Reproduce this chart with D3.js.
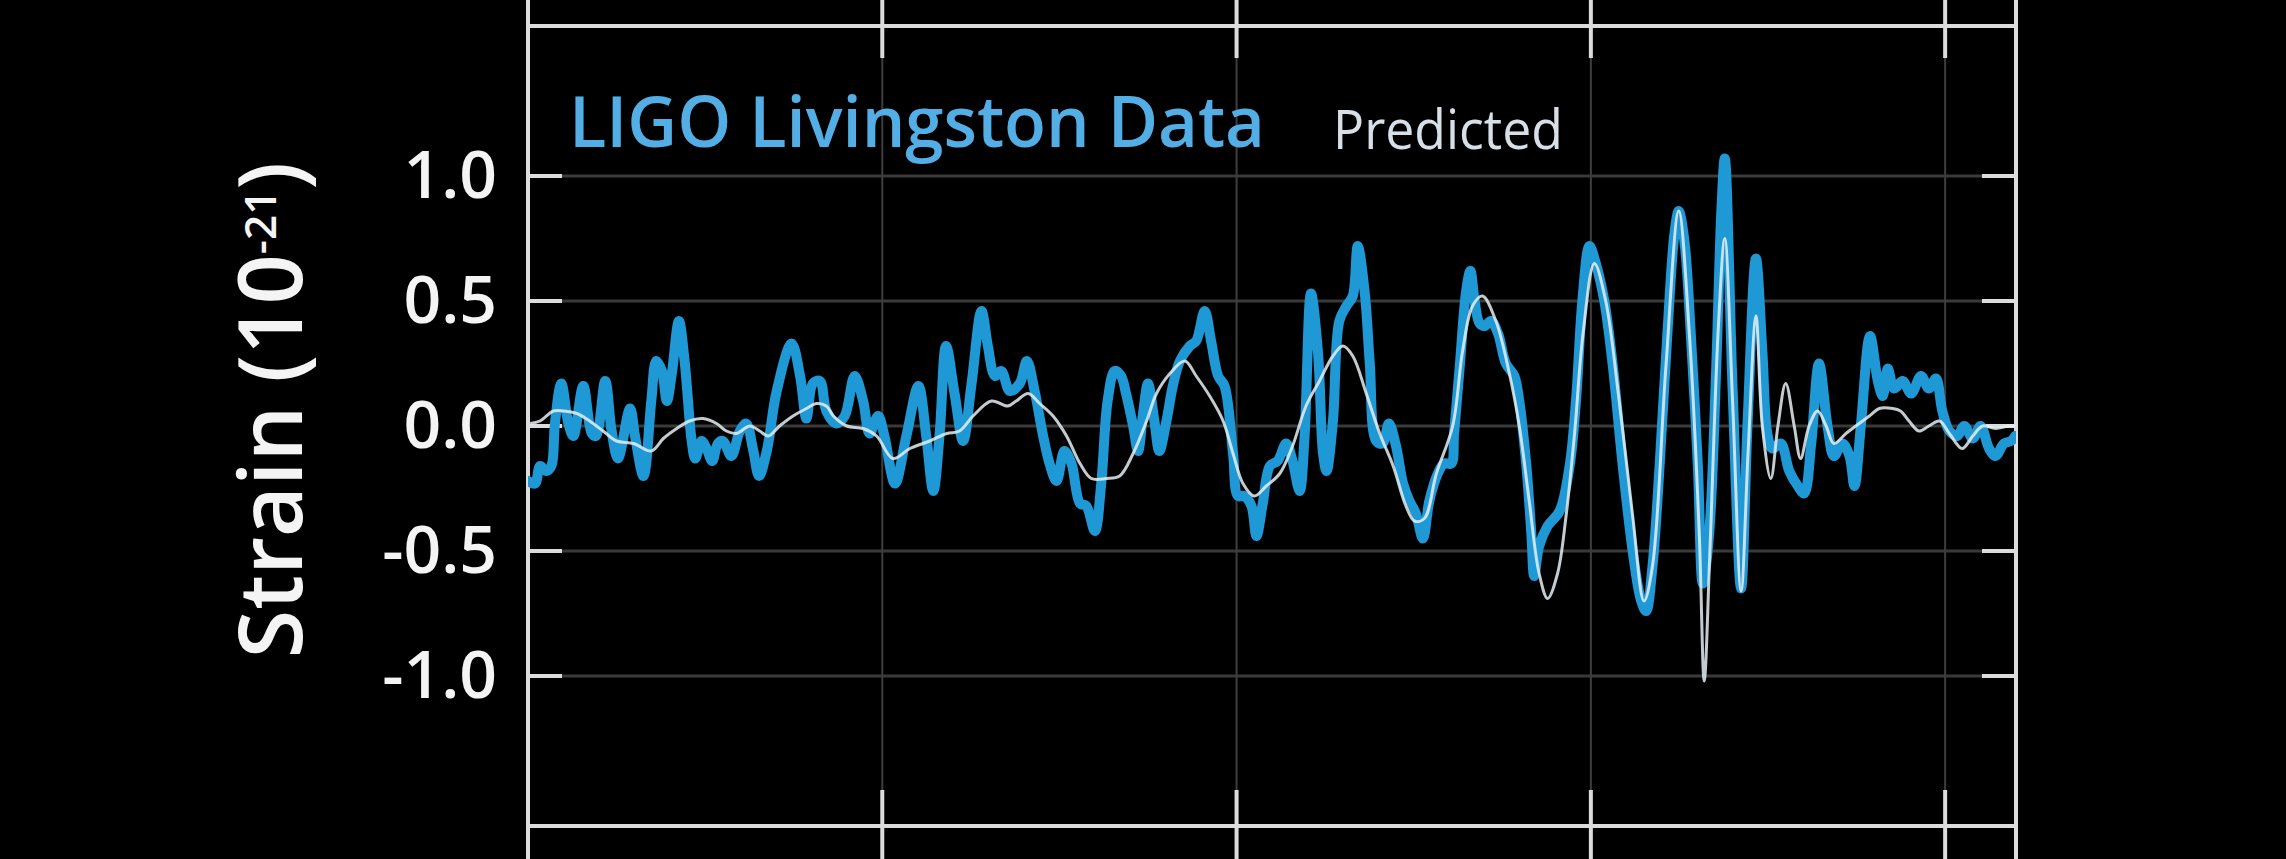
<!DOCTYPE html>
<html><head><meta charset="utf-8">
<script src="https://cdn.jsdelivr.net/npm/d3@7"></script>
<style>html,body{margin:0;padding:0;background:#000;overflow:hidden}</style>
</head><body>
<svg id="chart" width="2286" height="859"></svg>
<script>
// ---- data (time in ms, strain in units of 1e-21) ----
const xDomain = [250, 460];
const yDomain = [-1.6, 1.6];
const xTickValues = [300, 350, 400, 450];
const yTickValues = [-1.0, -0.5, 0.0, 0.5, 1.0];
const yTickLabels = ["-1.0", "-0.5", "0.0", "0.5", "1.0"];
const seriesNames = ["LIGO Livingston Data", "Predicted"];
const yTitleMain = "Strain (10";
const yTitleSup = "-21";
const yTitleEnd = ")";

const dataTime = [250.0,251.0,251.7,252.6,253.3,253.8,254.7,255.7,256.4,257.8,259.0,259.6,260.9,261.8,262.7,264.4,265.1,266.3,267.4,268.1,268.9,269.6,270.3,271.3,272.1,273.1,273.6,274.5,275.2,276.0,276.8,277.5,278.7,279.9,280.8,281.8,282.6,283.7,285.1,287.2,288.4,289.3,290.2,291.2,292.1,293.5,294.7,296.1,297.3,298.2,299.4,300.3,301.8,303.4,305.1,306.2,307.2,308.1,309.0,310.2,311.4,312.6,314.0,314.9,315.9,316.8,318.0,319.4,320.4,321.5,322.7,323.6,324.6,325.7,326.7,327.9,328.8,330.0,330.9,331.8,332.8,333.7,334.4,335.4,336.1,336.8,337.5,338.4,339.1,340.1,341.0,342.0,343.4,344.3,345.5,346.4,347.4,348.3,349.5,350.2,351.1,352.1,352.8,353.7,354.7,355.8,357.0,357.9,358.9,359.6,360.5,361.5,362.2,362.7,363.6,364.5,365.5,366.4,367.1,368.1,368.8,369.7,370.6,371.5,372.5,373.5,374.4,375.3,376.3,377.2,378.4,379.3,380.3,380.7,381.5,382.4,383.0,383.6,384.3,385.0,385.9,386.9,388.0,389.2,389.9,390.9,391.6,392.0,392.7,393.9,395.6,397.0,397.9,398.8,399.8,400.7,401.9,403.1,404.5,405.9,407.1,407.8,408.7,409.7,410.8,411.8,412.4,413.2,414.1,415.1,415.8,416.7,417.7,418.4,418.9,420.0,421.2,422.1,423.3,424.2,424.9,425.6,426.8,428.0,429.2,430.1,431.1,432.2,433.4,434.3,435.5,436.5,437.2,438.1,439.4,440.5,441.2,441.9,442.8,444.0,445.2,446.6,447.7,448.7,449.6,450.6,451.7,452.7,453.9,455.0,456.2,457.1,458.3,459.3,459.9];
const dataStrain = [-0.22,-0.23,-0.16,-0.18,-0.16,0.01,0.17,0.01,-0.04,0.16,-0.03,-0.04,0.18,-0.02,-0.13,0.07,-0.04,-0.20,0.10,0.26,0.22,0.10,0.21,0.42,0.26,-0.06,-0.13,-0.06,-0.09,-0.14,-0.07,-0.06,-0.12,-0.02,0.01,-0.10,-0.20,-0.10,0.14,0.33,0.20,0.03,0.17,0.18,0.06,0.01,0.04,0.20,0.10,-0.03,0.04,-0.04,-0.23,-0.04,0.16,-0.04,-0.26,-0.03,0.32,0.13,-0.06,0.17,0.46,0.32,0.20,0.22,0.14,0.17,0.26,0.14,-0.04,-0.15,-0.22,-0.10,-0.15,-0.31,-0.32,-0.42,-0.23,0.10,0.22,0.20,0.13,0.00,-0.10,0.05,0.17,0.02,-0.10,0.02,0.16,0.26,0.32,0.34,0.46,0.34,0.20,0.16,-0.11,-0.28,-0.28,-0.32,-0.44,-0.31,-0.16,-0.14,-0.07,-0.14,-0.26,-0.04,0.53,0.29,-0.11,-0.18,0.02,0.42,0.48,0.52,0.72,0.53,0.25,-0.06,-0.07,0.01,-0.08,-0.23,-0.30,-0.35,-0.45,-0.30,-0.19,-0.15,-0.15,-0.03,0.24,0.54,0.62,0.50,0.41,0.40,0.42,0.37,0.25,0.20,0.10,-0.16,-0.43,-0.60,-0.48,-0.40,-0.34,-0.16,0.10,0.50,0.72,0.65,0.50,0.24,-0.16,-0.50,-0.70,-0.74,-0.56,-0.16,0.37,0.77,0.86,0.74,0.37,-0.16,-0.63,-0.43,0.24,0.85,1.07,0.15,-0.65,0.00,0.67,0.30,-0.03,-0.09,-0.07,-0.18,-0.24,-0.27,-0.07,0.25,0.00,-0.12,-0.07,-0.12,-0.24,0.00,0.36,0.18,0.12,0.23,0.15,0.18,0.13,0.20,0.15,0.19,0.06,-0.02,-0.04,0.00,-0.05,0.00,-0.09,-0.12,-0.07,-0.06,-0.04];

const predTime = [250.3,251.7,253.6,255.0,256.9,258.7,260.6,262.5,264.9,267.4,269.1,271.0,272.8,274.7,276.6,278.0,279.4,281.3,282.7,283.9,285.5,287.4,289.3,290.7,292.1,293.1,295.0,297.3,299.2,301.5,303.9,306.7,309.1,310.9,312.8,315.4,317.7,318.9,320.6,322.2,324.1,326.0,327.9,329.5,331.6,333.5,335.4,337.3,338.7,340.6,342.7,344.3,346.2,348.1,349.5,350.9,352.5,354.2,356.1,357.9,359.8,361.7,363.6,365.0,366.4,368.3,370.2,372.1,373.9,375.1,376.5,378.2,380.5,381.9,383.3,384.7,386.6,388.5,389.9,391.3,392.7,393.9,395.3,396.5,397.7,398.9,400.5,402.1,404.0,405.9,407.5,408.7,410.6,412.4,413.9,415.3,416.0,416.8,418.0,418.9,420.0,421.2,422.2,423.3,424.2,425.4,426.4,427.5,428.7,429.6,430.8,432.0,433.2,434.3,436.0,437.4,439.3,440.7,442.6,443.7,444.9,446.3,447.7,449.2,450.6,452.4,453.9,455.3,457.1,459.0,459.9];
const predStrain = [0.01,0.02,0.06,0.06,0.05,0.02,-0.02,-0.06,-0.07,-0.10,-0.05,-0.01,0.02,0.03,0.01,-0.02,-0.03,0.00,-0.02,-0.04,0.00,0.04,0.07,0.09,0.08,0.04,0.00,-0.01,-0.04,-0.13,-0.09,-0.06,-0.03,-0.02,0.04,0.10,0.08,0.10,0.13,0.09,0.04,-0.04,-0.15,-0.21,-0.21,-0.20,-0.11,0.02,0.13,0.21,0.26,0.20,0.12,0.02,-0.11,-0.23,-0.28,-0.24,-0.19,-0.08,0.08,0.18,0.28,0.32,0.28,0.13,-0.03,-0.16,-0.32,-0.38,-0.37,-0.19,0.00,0.30,0.48,0.52,0.42,0.21,0.00,-0.30,-0.59,-0.69,-0.59,-0.36,-0.03,0.37,0.65,0.50,0.10,-0.36,-0.70,-0.56,0.24,0.86,0.37,-0.43,-1.02,-0.50,0.40,0.75,0.10,-0.66,-0.10,0.44,0.00,-0.21,0.00,0.17,0.00,-0.13,0.00,0.06,0.00,-0.07,-0.03,0.00,0.04,0.07,0.07,0.06,0.02,-0.02,0.00,0.02,-0.03,-0.09,-0.04,0.00,-0.01,0.00,0.00];

// ---- layout ----
const W = 2286, H = 859;
const plot = {left: 528, right: 2016, top: 26, bottom: 826};
const svg = d3.select("#chart");
svg.append("rect").attr("width", W).attr("height", H).attr("fill", "#000");

const x = d3.scaleLinear().domain(xDomain).range([plot.left, plot.right]);
const y = d3.scaleLinear().domain(yDomain).range([plot.bottom, plot.top]);

// grid
const grid = svg.append("g");
grid.selectAll("line.h").data(yTickValues).join("line").attr("class","h")
  .attr("x1", plot.left).attr("x2", plot.right)
  .attr("y1", d => y(d)).attr("y2", d => y(d))
  .attr("stroke", "#3a3a3a").attr("stroke-width", 3);
grid.selectAll("line.v").data(xTickValues).join("line").attr("class","v")
  .attr("x1", d => x(d)).attr("x2", d => x(d))
  .attr("y1", plot.top).attr("y2", plot.bottom)
  .attr("stroke", "#3e3e3e").attr("stroke-width", 2);

// frame
const frameColor = "#dcdcdc";
svg.append("line").attr("x1", plot.left).attr("x2", plot.right).attr("y1", plot.top).attr("y2", plot.top)
  .attr("stroke", frameColor).attr("stroke-width", 4);
svg.append("line").attr("x1", plot.left).attr("x2", plot.right).attr("y1", plot.bottom).attr("y2", plot.bottom)
  .attr("stroke", frameColor).attr("stroke-width", 4);
svg.append("line").attr("x1", plot.left).attr("x2", plot.left).attr("y1", 0).attr("y2", H)
  .attr("stroke", frameColor).attr("stroke-width", 4);
svg.append("line").attr("x1", plot.right).attr("x2", plot.right).attr("y1", 0).attr("y2", H)
  .attr("stroke", frameColor).attr("stroke-width", 4);

// x ticks (top & bottom, crossing the frame lines)
const ticks = svg.append("g").attr("stroke", frameColor).attr("stroke-width", 4);
ticks.selectAll("line.tt").data(xTickValues).join("line").attr("class","tt")
  .attr("x1", d => x(d)).attr("x2", d => x(d)).attr("y1", 0).attr("y2", plot.top + 32);
ticks.selectAll("line.tb").data(xTickValues).join("line").attr("class","tb")
  .attr("x1", d => x(d)).attr("x2", d => x(d)).attr("y1", plot.bottom - 36).attr("y2", H);
// y ticks inward, both sides
ticks.selectAll("line.yl").data(yTickValues).join("line").attr("class","yl")
  .attr("x1", plot.left).attr("x2", plot.left + 34).attr("y1", d => y(d)).attr("y2", d => y(d));
ticks.selectAll("line.yr").data(yTickValues).join("line").attr("class","yr")
  .attr("x1", plot.right - 34).attr("x2", plot.right).attr("y1", d => y(d)).attr("y2", d => y(d));

// y tick labels via axis
const yAxis = d3.axisLeft(y).tickValues(yTickValues)
  .tickFormat((d, i) => yTickLabels[i]).tickSize(0).tickPadding(31);
const gy = svg.append("g").attr("transform", `translate(${plot.left},0)`).call(yAxis);
gy.select(".domain").remove();
gy.selectAll("text").attr("fill", "#f4f4f4")
  .style("font-family", "'Open Sans', sans-serif").style("font-weight", 600).style("font-size", "66px");

// y title
const title = svg.append("text")
  .attr("transform", "translate(302,410) rotate(-90)")
  .attr("text-anchor", "middle")
  .attr("fill", "#f4f4f4")
  .style("font-family", "'Open Sans', sans-serif").style("font-weight", 600).style("font-size", "88px");
title.append("tspan").text(yTitleMain);
title.append("tspan").attr("dy", -26).style("font-size", "44px").text(yTitleSup);
title.append("tspan").attr("dy", 26).text(yTitleEnd);

// lines
svg.append("clipPath").attr("id", "clip").append("rect")
  .attr("x", plot.left).attr("y", plot.top).attr("width", plot.right - plot.left).attr("height", plot.bottom - plot.top);
const line = d3.line().x(d => x(d[0])).y(d => y(d[1])).curve(d3.curveCatmullRom.alpha(0.5));
const lines = svg.append("g").attr("clip-path", "url(#clip)");
lines.append("path").datum(d3.zip(dataTime, dataStrain)).attr("d", line)
  .attr("fill", "none").attr("stroke", "#1f98d6").attr("stroke-width", 10)
  .attr("stroke-linejoin", "round").attr("stroke-linecap", "round");
lines.append("path").datum(d3.zip(predTime, predStrain)).attr("d", line)
  .attr("fill", "none").attr("stroke", "#e6eef2").attr("stroke-width", 3).attr("stroke-opacity", 0.85)
  .attr("stroke-linejoin", "round");

// legend labels
svg.append("text").attr("x", 569).attr("y", 147).attr("fill", "#53aee5")
  .attr("textLength", 696).attr("lengthAdjust", "spacingAndGlyphs")
  .style("font-family", "'Open Sans', sans-serif").style("font-weight", 600).style("font-size", "71px")
  .text(seriesNames[0]);
svg.append("text").attr("x", 1333).attr("y", 149).attr("fill", "#d6e0e6")
  .attr("textLength", 230).attr("lengthAdjust", "spacingAndGlyphs")
  .style("font-family", "'Open Sans', sans-serif").style("font-weight", 400).style("font-size", "55px")
  .text(seriesNames[1]);
</script>
</body></html>
